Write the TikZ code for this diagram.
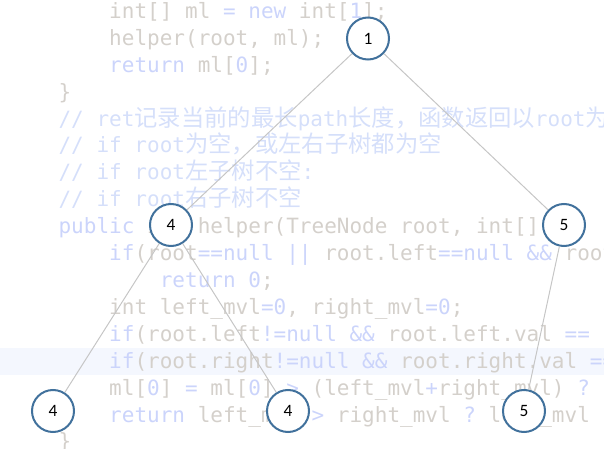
\documentclass[tikz,border=0pt]{standalone}
\usepackage{fontspec}
\setmainfont{Carlito}
\setmonofont{DejaVu Sans Mono}
\newfontfamily\cjkfont[Scale=1.11]{Noto Sans CJK SC}

\definecolor{codegray}{RGB}{212,208,203}
\definecolor{codekw}{RGB}{203,212,251}
\definecolor{codecmt}{RGB}{213,223,250}
\definecolor{hiliteband}{RGB}{244,247,254}
\definecolor{nodeblue}{RGB}{65,113,156}
\definecolor{edgegray}{RGB}{198,198,198}

\newcommand\kwd[1]{\textcolor{codekw}{#1}}
\newcommand\zh[1]{{\cjkfont #1}}

\tikzset{every picture/.style={line width=0.75pt}}
\tikzset{
  codeline/.style={anchor=base west, inner sep=0pt, outer sep=0pt, text=codegray,
    font=\ttfamily\fontsize{15.76}{18}\selectfont},
  cmtline/.style={codeline, text=codecmt},
  treenode/.style={circle, draw=nodeblue, line width=1.5pt, fill=white, inner sep=0pt,
    minimum size=31.5pt, font=\fontsize{13}{15}\selectfont},
  treeedge/.style={draw=edgegray, line width=0.75pt}
}

\begin{document}
\begin{tikzpicture}[x=0.75pt,y=0.75pt,yscale=-1,xscale=1]
  \path[use as bounding box] (0,0) rectangle (604,449);

  % code shown behind the tree
  \begin{scope}
  \clip (0,0) rectangle (604,449);
  \fill[hiliteband] (0,348.5) rectangle (604,375.4);

  \node[codeline] (c0) at (109.2,18.5) {int[] ml \kwd{= new} int[\kwd{1}];};
  \node[codeline] (c1) at (109.2,45.4) {helper(root, ml);};
  \node[codeline] (c2) at (109.2,72.3) {\kwd{return} ml[\kwd{0}];};
  \node[codeline] (c3) at (58.6,99.2) {\}};
  \node[cmtline] (c4) at (58.6,126.1) {// ret\zh{记录当前的最长}path\zh{长度，函数返回以}root\zh{为}};
  \node[cmtline] (c5) at (58.6,153) {// if root\zh{为空，或左右子树都为空}};
  \node[cmtline] (c6) at (58.6,179.9) {// if root\zh{左子树不空}:};
  \node[cmtline] (c7) at (58.6,206.8) {// if root\zh{右子树不空}};
  \node[codeline] (c8) at (58.6,233.7) {\kwd{public} int helper(TreeNode root, int[] ml)};
  \node[codeline] (c9) at (109.2,260.6) {\kwd{if}(root\kwd{==null} \kwd{||} root.left\kwd{==null} \kwd{\&\&} root.right\kwd{==null})};
  \node[codeline] (c10) at (159.8,287.5) {\kwd{return 0};};
  \node[codeline] (c11) at (109.2,314.4) {int left\_mvl\kwd{=0}, right\_mvl\kwd{=0};};
  \node[codeline] (c12) at (109.2,341.3) {\kwd{if}(root.left\kwd{!=null} \kwd{\&\&} root.left.val \kwd{==} root.val)};
  \node[codeline] (c13) at (109.2,368.2) {\kwd{if}(root.right\kwd{!=null} \kwd{\&\&} root.right.val \kwd{==} root.val)};
  \node[codeline] (c14) at (109.2,395.1) {ml[\kwd{0}] \kwd{=} ml[\kwd{0}] \kwd{>} (left\_mvl\kwd{+}right\_mvl) \kwd{?}};
  \node[codeline] (c15) at (109.2,422) {\kwd{return} left\_mvl \kwd{>} right\_mvl \kwd{?} left\_mvl};
  \node[codeline] (c16) at (58.6,448.9) {\}};
  \end{scope}

  % tree
  \node[treenode] (root) at (368,38.5) {1};
  \node[treenode] (lft) at (171,225) {4};
  \node[treenode] (rgt) at (564,225) {5};
  \node[treenode] (lftlft) at (53,411) {4};
  \node[treenode] (lftrgt) at (288,411) {4};
  \node[treenode] (rgtrgt) at (524,411) {5};

  \draw[treeedge] (root) -- (lft);
  \draw[treeedge] (root) -- (rgt);
  \draw[treeedge] (lft) -- (lftlft);
  \draw[treeedge] (lft) -- (lftrgt);
  \draw[treeedge] (rgt) -- (rgtrgt);

\end{tikzpicture}
\end{document}
